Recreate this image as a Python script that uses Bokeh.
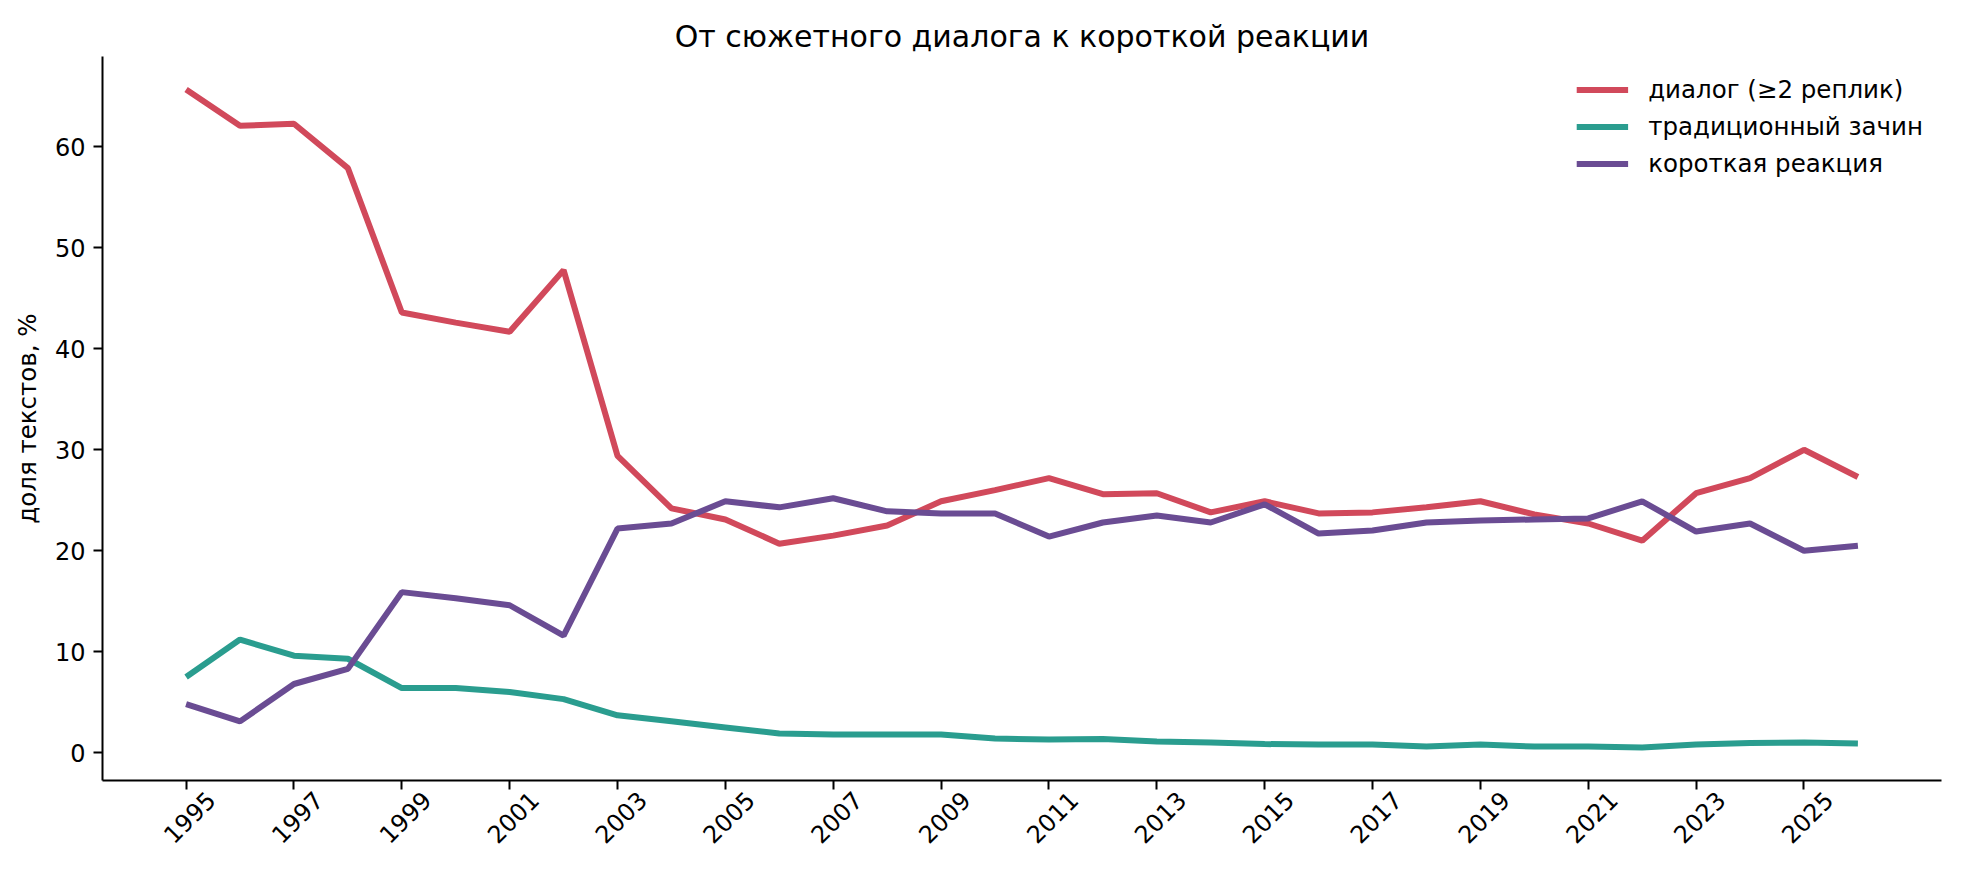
import math
from bokeh.plotting import figure
from bokeh.models import (Range1d, FixedTicker, Legend, LegendItem, LinearAxis,
                          CustomJSTickFormatter)
from bokeh.embed import file_html
from bokeh.resources import INLINE

years = list(range(1995, 2027))

dialog = [65.7, 62.1, 62.3, 57.9, 43.6, 42.6, 41.7, 47.8, 29.4, 24.2,
          23.1, 20.7, 21.5, 22.5, 24.9, 26.0, 27.2, 25.6, 25.7, 23.8,
          24.9, 23.7, 23.8, 24.3, 24.9, 23.6, 22.7, 21.0, 25.7, 27.2,
          30.0, 27.3]

traditional = [7.5, 11.2, 9.6, 9.3, 6.4, 6.4, 6.0, 5.3, 3.7, 3.1,
               2.5, 1.9, 1.8, 1.8, 1.8, 1.4, 1.3, 1.35, 1.1, 1.0,
               0.85, 0.8, 0.8, 0.6, 0.8, 0.6, 0.6, 0.5, 0.8, 0.95,
               1.0, 0.9]

short_reaction = [4.8, 3.1, 6.8, 8.3, 15.9, 15.3, 14.6, 11.6, 22.2, 22.7,
                  24.9, 24.3, 25.2, 23.9, 23.7, 23.7, 21.4, 22.8, 23.5, 22.8,
                  24.6, 21.7, 22.0, 22.8, 23.0, 23.1, 23.2, 24.9, 21.9, 22.7,
                  20.0, 20.5]

labels = ["диалог (≥2 реплик)", "традиционный зачин", "короткая реакция"]
colors = ["#d1495b", "#2a9d8f", "#6a4c93"]

x_ticks = list(range(1995, 2026, 2))
y_ticks = [0, 10, 20, 30, 40, 50, 60]

FONT = "DejaVu Sans"
Y_MIN, Y_MAX = -2.76, 68.96
LABEL_SHIFT = 0.46  # years: moves the rotated label so it is centred under its tick

p = figure(width=1961, height=879, output_backend="svg", toolbar_location=None,
           x_range=Range1d(1993.45, 2027.55), y_range=Range1d(Y_MIN, Y_MAX),
           min_border_left=102, min_border_right=20, min_border_top=56,
           min_border_bottom=99)

p.title.text = "От сюжетного диалога к короткой реакции"
p.title.align = "center"
p.title.text_font = FONT
p.title.text_font_size = "30px"
p.title.text_font_style = "normal"
p.title.text_color = "#000000"
p.title.standoff = 6

p.outline_line_color = None
p.xgrid.grid_line_color = None
p.ygrid.grid_line_color = None
p.background_fill_color = "white"
p.border_fill_color = "white"

renderers = []
for series, c in zip([dialog, traditional, short_reaction], colors):
    r = p.line(years, series, line_color=c, line_width=6)
    renderers.append(r)

legend = Legend(items=[LegendItem(label=l, renderers=[r]) for l, r in zip(labels, renderers)],
                location="top_right")
legend.border_line_alpha = 0
legend.background_fill_alpha = 0
legend.label_text_font = FONT
legend.label_text_font_size = "24.5px"
legend.label_text_color = "#000000"
legend.glyph_width = 52
legend.glyph_height = 31
legend.label_height = 31
legend.spacing = 6
legend.label_standoff = 20
legend.margin = 8
legend.padding = 10
p.add_layout(legend)

for ax in [p.xaxis[0], p.yaxis[0]]:
    ax.axis_line_color = "#000000"
    ax.axis_line_width = 2
    ax.major_tick_line_color = "#000000"
    ax.major_tick_line_width = 2
    ax.major_tick_in = 0
    ax.major_tick_out = 9
    ax.minor_tick_line_color = None
    ax.major_label_text_font = FONT
    ax.major_label_text_font_size = "24px"
    ax.major_label_text_color = "#000000"

# main x axis: spine and ticks only
p.xaxis[0].ticker = FixedTicker(ticks=x_ticks)
p.xaxis[0].major_label_overrides = {t: "" for t in x_ticks}
p.xaxis[0].major_label_standoff = 0

# label axis: rotated year labels, centred under the ticks of the main axis
label_axis = LinearAxis(
    ticker=FixedTicker(ticks=[t + LABEL_SHIFT for t in x_ticks]),
    formatter=CustomJSTickFormatter(code="return Math.floor(tick).toString();"),
    axis_line_color=None, major_tick_line_color=None, minor_tick_line_color=None,
    major_tick_in=0, major_tick_out=0,
    major_label_orientation=math.pi / 4, major_label_standoff=6,
    major_label_text_font=FONT, major_label_text_font_size="24px",
    major_label_text_color="#000000")
p.add_layout(label_axis, "below")

p.yaxis.ticker = FixedTicker(ticks=y_ticks)
p.yaxis.major_label_standoff = 8
p.yaxis.axis_label = "доля текстов, %"
p.yaxis.axis_label_text_font = FONT
p.yaxis.axis_label_text_font_size = "24.5px"
p.yaxis.axis_label_text_font_style = "normal"
p.yaxis.axis_label_text_color = "#000000"
p.yaxis.axis_label_standoff = 10

open("out.html", "w").write(file_html(p, INLINE))
